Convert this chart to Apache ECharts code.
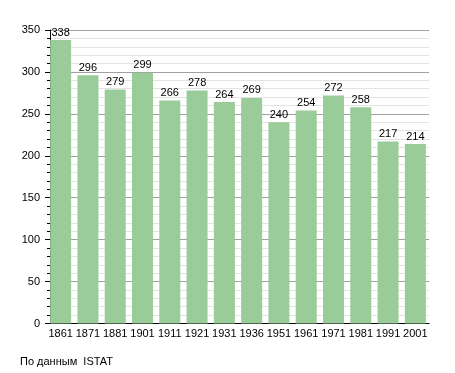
<!DOCTYPE html>
<html><head><meta charset="utf-8">
<script src="https://cdn.jsdelivr.net/npm/echarts@6/dist/echarts.min.js"></script>
<style>html,body{margin:0;padding:0;background:#fff}#c{width:455px;height:373px}</style>
</head><body><div id="c"></div>
<script>
const years = ['1861','1871','1881','1901','1911','1921','1931','1936','1951','1961','1971','1981','1991','2001'];
const population = [338,296,279,299,266,278,264,269,240,254,272,258,217,214];
const yTicks = {min:0, max:350, interval:50};
const sourceText = 'По данным  ISTAT';
const font = 'Liberation Sans, Arial, sans-serif';
const chart = echarts.init(document.getElementById('c'), null, {renderer:'canvas'});
chart.setOption({
  animation:false,
  backgroundColor:'#fff',
  grid:{left:47, right:26, top:30, bottom:49.5, containLabel:false},
  graphic:[{type:'text', left:20, top:356, style:{text:sourceText, font:'11px '+font, fill:'#000'}}],
  xAxis:{type:'category', data:years, boundaryGap:true,
    axisLine:{show:true, lineStyle:{color:'#000', width:1}},
    axisTick:{show:false},
    axisLabel:{color:'#000', fontFamily:font, fontSize:11, margin:5, interval:0},
    splitLine:{show:false}},
  yAxis:{type:'value', min:yTicks.min, max:yTicks.max, interval:yTicks.interval, offset:-3,
    axisLine:{show:true, lineStyle:{color:'#000', width:1}},
    axisTick:{show:true, length:5, lineStyle:{color:'#000'}},
    minorTick:{show:true, splitNumber:5, length:3, lineStyle:{color:'#000'}},
    axisLabel:{color:'#000', fontFamily:font, fontSize:11, margin:10},
    splitLine:{show:true, lineStyle:{color:'#a0a0a0', width:1}},
    minorSplitLine:{show:true, lineStyle:{color:'#e4e4e4', width:1}}},
  series:[{type:'bar', data:population, barWidth:21,
    itemStyle:{color:'#99cc99'},
    label:{show:true, position:'top', distance:2, color:'#000', fontFamily:font, fontSize:11}}]
});
</script></body></html>
